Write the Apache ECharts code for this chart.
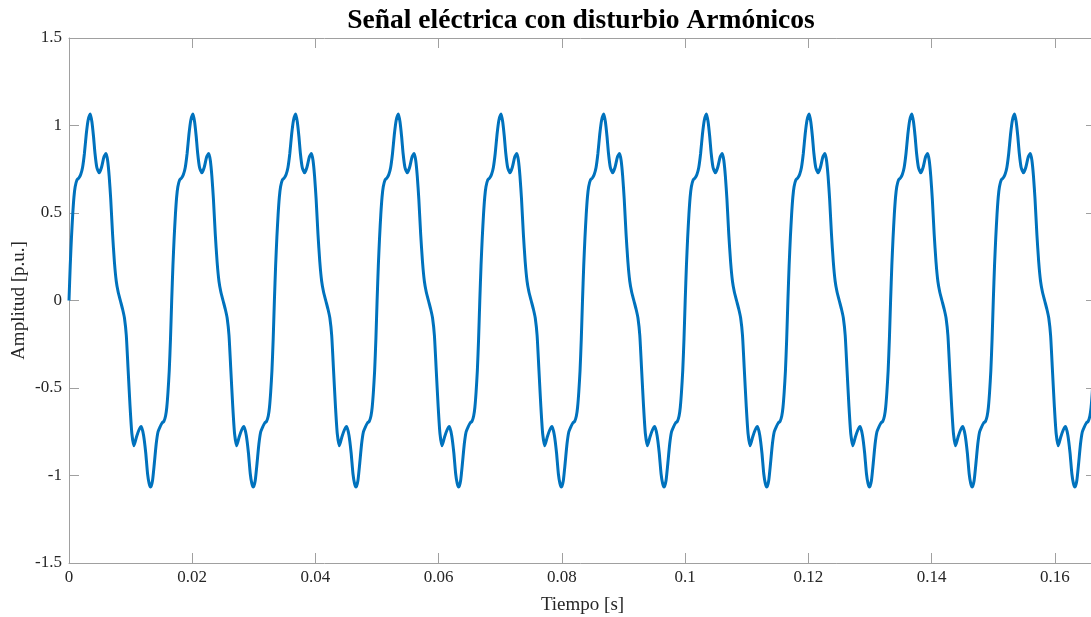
<!DOCTYPE html>
<html>
<head>
<meta charset="utf-8">
<script src="https://cdn.jsdelivr.net/npm/echarts@6/dist/echarts.min.js"></script>
<style>
html,body{margin:0;padding:0;background:#fff;}
#chart{width:1091px;height:617px;}
</style>
</head>
<body>
<div id="chart"></div>
<script>
// One period of the waveform (time in ms within the period, value in p.u.)
const periodMs = [0.00, 0.20, 0.40, 0.60, 0.80, 1.00, 1.30, 1.60, 1.90, 2.20, 2.50, 2.80, 3.10, 3.45, 3.72, 3.97, 4.22, 4.52, 4.90, 5.27, 5.67, 6.00, 6.27, 6.52, 6.77, 7.07, 7.37, 7.67, 7.97, 8.33,
                  8.70, 9.00, 9.30, 9.60, 9.90, 10.20, 10.55, 10.95, 11.35, 11.72, 12.10, 12.45, 12.75, 13.00, 13.25, 13.55, 13.85, 14.15, 14.45, 14.80, 15.10, 15.40, 15.67, 15.87, 16.07, 16.27, 16.47, 16.667];
const periodVal = [0.00, 0.20, 0.36, 0.49, 0.59, 0.65, 0.69, 0.70, 0.72, 0.76, 0.84, 0.95, 1.03, 1.066, 1.02, 0.94, 0.84, 0.76, 0.73, 0.76, 0.82, 0.84, 0.80, 0.71, 0.58, 0.38, 0.22, 0.11, 0.05, 0.00,
                   -0.05, -0.10, -0.20, -0.40, -0.60, -0.76, -0.83, -0.78, -0.74, -0.72, -0.77, -0.87, -0.99, -1.045, -1.066, -1.03, -0.93, -0.82, -0.75, -0.72, -0.70, -0.69, -0.66, -0.61, -0.52, -0.40, -0.22, 0.00];
const periodCount = 10;          // the picture shows ten identical cycles
const periodSec = 1 / 60;        // 60 Hz
const xTicks = [0, 0.02, 0.04, 0.06, 0.08, 0.1, 0.12, 0.14, 0.16];
const yTicks = [-1.5, -1, -0.5, 0, 0.5, 1, 1.5];

const titleText = 'Señal eléctrica con disturbio Armónicos';
const xName = 'Tiempo [s]';
const yName = 'Amplitud [p.u.]';

const data = [];
for (let k = 0; k < periodCount; k++) {
  for (let i = 0; i < periodMs.length; i++) {
    if (i === periodMs.length - 1 && k < periodCount - 1) continue;
    data.push([k * periodSec + periodMs[i] / 1000, periodVal[i]]);
  }
}

const FONT = '"Liberation Serif", "Times New Roman", serif';
const axisColor = '#a0a0a0';
const textColor = '#262626';

const chart = echarts.init(document.getElementById('chart'), null, {renderer: 'canvas'});

function xFmt(v) {
  const r = Math.round(v / 0.02);
  if (Math.abs(v / 0.02 - r) > 1e-6) return '';
  return String(parseFloat((r * 0.02).toFixed(2)));
}

const xBase = {
  type: 'value', min: 0, max: periodCount * periodSec, interval: 0.02,
  splitLine: {show: false},
  axisLine: {show: true, onZero: false, lineStyle: {color: axisColor, width: 1}},
  axisTick: {show: true, inside: true, length: 10, lineStyle: {color: axisColor}},
};
const yBase = {
  type: 'value', min: -1.5, max: 1.5, interval: 0.5,
  splitLine: {show: false},
  axisLine: {show: true, onZero: false, lineStyle: {color: axisColor, width: 1}},
  axisTick: {show: true, inside: true, length: 10, lineStyle: {color: axisColor}},
};

chart.setOption({
  animation: false,
  backgroundColor: '#ffffff',
  title: {
    text: titleText, left: 576, top: 2, textAlign: 'center',
    textStyle: {fontFamily: FONT, fontSize: 27.5, fontWeight: 'bold', color: '#000'}
  },
  grid: {left: 69, top: 38, width: 1027, height: 525, containLabel: false, outerBoundsMode: 'none'},
  xAxis: [
    Object.assign({}, xBase, {
      position: 'bottom',
      name: xName, nameLocation: 'middle', nameGap: 33, nameMoveOverlap: false,
      nameTextStyle: {fontFamily: FONT, fontSize: 19, color: textColor},
      axisLabel: {show: true, margin: 6, fontFamily: FONT, fontSize: 17, color: textColor, formatter: xFmt, showMaxLabel: false}
    }),
    Object.assign({}, xBase, {position: 'top', axisLabel: {show: false}})
  ],
  yAxis: [
    Object.assign({}, yBase, {
      position: 'left',
      name: yName, nameLocation: 'middle', nameGap: 40, nameRotate: 90, nameMoveOverlap: false,
      nameTextStyle: {fontFamily: FONT, fontSize: 19, color: textColor},
      axisLabel: {show: true, margin: 7, fontFamily: FONT, fontSize: 17, color: textColor}
    }),
    Object.assign({}, yBase, {position: 'right', axisLabel: {show: false}})
  ],
  series: [{
    type: 'line', xAxisIndex: 0, yAxisIndex: 0,
    data: data, showSymbol: false, symbol: 'none', smooth: 0.2,
    lineStyle: {color: '#0072BD', width: 3},
    clip: true
  }]
});
</script>
</body>
</html>
